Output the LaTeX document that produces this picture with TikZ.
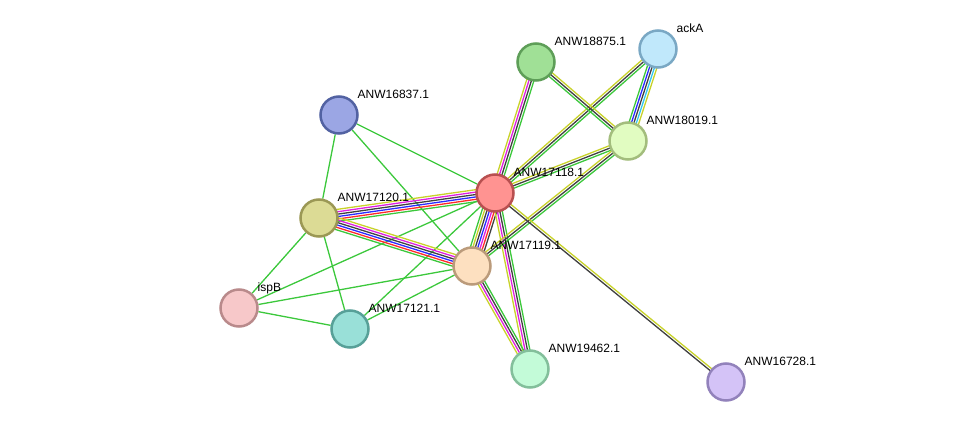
\documentclass[tikz,border=0pt]{standalone}
\usepackage{fontspec}
\setmainfont{Liberation Sans}
\usetikzlibrary{calc,backgrounds}

% evidence colours
\definecolor{evgreen}{HTML}{3CC83C}
\definecolor{evyellow}{HTML}{C8D22A}
\definecolor{evblack}{HTML}{404040}
\definecolor{evmagenta}{HTML}{E020E0}
\definecolor{evblue}{HTML}{2A2AFF}
\definecolor{evred}{HTML}{FF2A2A}
\definecolor{evcyan}{HTML}{30C8F0}

\tikzset{
  prot/.style={circle, minimum size=37pt, inner sep=0pt, line width=2.5pt},
  lbl/.style={font=\fontsize{12}{14}\selectfont, inner sep=0.5pt, text depth=2.6pt,
              xshift=4pt, yshift=-0.6pt},
  edge/.style={line width=1.3pt}
}

% parallel lines between two nodes, one per colour
\newcommand{\bundle}[3]{%
  \foreach \col [count=\k] in {#3} {\xdef\nlines{\k}}%
  \foreach \col [count=\k] in {#3} {%
    \pgfmathsetmacro{\off}{(\k-(\nlines+1)/2)*2.4}%
    \draw[edge, \col] ($(#1)!\off pt!90:(#2)$) -- ($(#2)!\off pt!-90:(#1)$);
  }%
}

\begin{document}
\begin{tikzpicture}[x=1pt, y=-1pt]
    \useasboundingbox (0,0) rectangle (975,428);

    % proteins
    \node[prot, fill={rgb,255:red,255;green,147;blue,145}, draw={rgb,255:red,184;green,80;blue,80},
      label={[lbl]45:ANW17118.1}] (n17118) at (495,193) {};
    \node[prot, fill={rgb,255:red,160;green,224;blue,150}, draw={rgb,255:red,94;green,158;blue,88},
      label={[lbl]45:ANW18875.1}] (n18875) at (536,62) {};
    \node[prot, fill={rgb,255:red,192;green,232;blue,251}, draw={rgb,255:red,122;green,168;blue,196},
      label={[lbl]45:ackA}] (ackA) at (658,49) {};
    \node[prot, fill={rgb,255:red,225;green,252;blue,193}, draw={rgb,255:red,163;green,189;blue,125},
      label={[lbl]45:ANW18019.1}] (n18019) at (628,141) {};
    \node[prot, fill={rgb,255:red,155;green,166;blue,228}, draw={rgb,255:red,82;green,98;blue,162},
      label={[lbl]45:ANW16837.1}] (n16837) at (339,115) {};
    \node[prot, fill={rgb,255:red,220;green,219;blue,149}, draw={rgb,255:red,155;green,152;blue,85},
      label={[lbl]45:ANW17120.1}] (n17120) at (319,218) {};
    \node[prot, fill={rgb,255:red,253;green,224;blue,192}, draw={rgb,255:red,187;green,155;blue,123},
      label={[lbl]45:ANW17119.1}] (n17119) at (472,266) {};
    \node[prot, fill={rgb,255:red,247;green,200;blue,201}, draw={rgb,255:red,185;green,138;blue,139},
      label={[lbl]45:ispB}] (ispB) at (239,308) {};
    \node[prot, fill={rgb,255:red,153;green,224;blue,216}, draw={rgb,255:red,87;green,160;blue,152},
      label={[lbl]45:ANW17121.1}] (n17121) at (350,329) {};
    \node[prot, fill={rgb,255:red,195;green,251;blue,216}, draw={rgb,255:red,131;green,191;blue,155},
      label={[lbl]45:ANW19462.1}] (n19462) at (530,369) {};
    \node[prot, fill={rgb,255:red,212;green,195;blue,247}, draw={rgb,255:red,146;green,130;blue,187},
      label={[lbl]45:ANW16728.1}] (n16728) at (726,382) {};

    \begin{pgfonlayer}{background}
      % single neighbourhood links
      \foreach \a/\b in {n16837/n17118, n16837/n17120, n16837/n17119, n17120/ispB, n17120/n17121,
                         ispB/n17118, ispB/n17119, ispB/n17121, n17121/n17118, n17121/n17119}
        \draw[edge, evgreen] (\a) -- (\b);

      % multi-evidence links
      \bundle{n17118}{n17120}{evyellow,evmagenta,evblack,evblue,evred,evgreen}
      \bundle{n17119}{n17120}{evyellow,evmagenta,evblack,evblue,evred,evgreen}
      \bundle{n17118}{n17119}{evgreen,evyellow,evblack,evblue,evmagenta,evred,evblack}
      \bundle{n17118}{n19462}{evyellow,evmagenta,evblack,evgreen}
      \bundle{n17119}{n19462}{evyellow,evmagenta,evblack,evgreen}
      \bundle{n17118}{n18875}{evgreen,evblack,evmagenta,evyellow}
      \bundle{n17118}{ackA}{evgreen,evblack,evyellow}
      \bundle{n17118}{n18019}{evgreen,evblack,evyellow}
      \bundle{n17119}{n18019}{evgreen,evblack,evyellow}
      \bundle{n18875}{n18019}{evgreen,evblack,evyellow}
      \bundle{ackA}{n18019}{evgreen,evblue,evblack,evcyan,evyellow}
      \bundle{n17118}{n16728}{evblack,evyellow}
    \end{pgfonlayer}
\end{tikzpicture}
\end{document}
